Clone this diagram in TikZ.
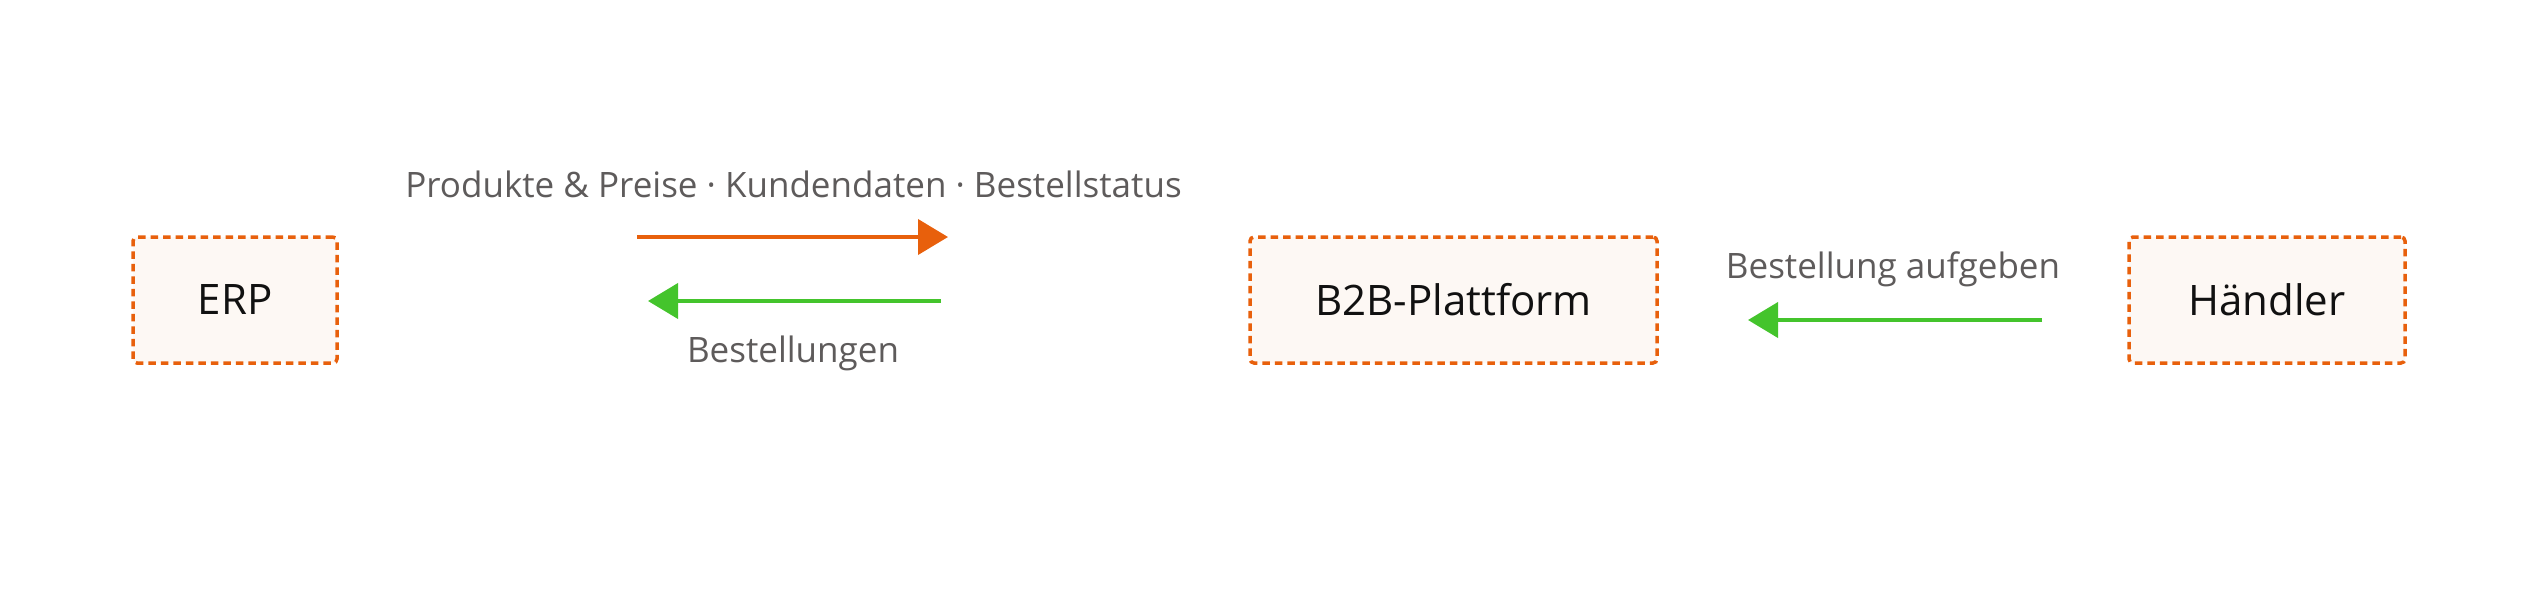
\documentclass[tikz,border=0pt]{standalone}
\usepackage{fontspec}
\setmainfont{Open Sans}
\usetikzlibrary{arrows.meta}
\definecolor{borange}{HTML}{E8600C}
\definecolor{bgreen}{HTML}{44C42C}
\definecolor{bfill}{HTML}{FDF8F4}
\definecolor{lgray}{HTML}{5E5B5B}
\definecolor{btext}{HTML}{111111}
\tikzset{
  sysbox/.style={draw=borange, fill=bfill, line width=3.5pt, dash pattern=on 7.5pt off 5pt,
    rounded corners=4pt, minimum height=126pt, inner sep=0pt, text=btext,
    font=\fontsize{42}{48}\selectfont},
  lbl/.style={text=lgray, font=\fontsize{35}{40}\selectfont, inner sep=0pt},
  flowO/.style={draw=borange, line width=4pt, -{Triangle[length=30pt,width=35pt]}},
  flowG/.style={draw=bgreen, line width=4pt, -{Triangle[length=30pt,width=35pt]}}
}
\begin{document}
\begin{tikzpicture}[x=1pt,y=-1pt]
\useasboundingbox[fill=white] (0,0) rectangle (2536,600);
\node[sysbox, minimum width=204pt] (erp) at (235,300) {ERP};
\node[sysbox, minimum width=407pt] (b2b) at (1453.5,300) {B2B-Plattform};
\node[sysbox, minimum width=276pt] (hd) at (2267,300) {Händler};
\coordinate (o1) at (637,237);
\coordinate (o2) at (948,237);
\coordinate (g1) at (941,301);
\coordinate (g2) at (648,301);
\coordinate (h1) at (2042,320);
\coordinate (h2) at (1748,320);
\draw[flowO] (o1) -- (o2);
\draw[flowG] (g1) -- (g2);
\draw[flowG] (h1) -- (h2);
\node[lbl, anchor=base] (l1) at (793.5,197) {Produkte \& Preise · Kundendaten · Bestellstatus};
\node[lbl, anchor=base] (l2) at (793,362) {Bestellungen};
\node[lbl, anchor=base] (l3) at (1893,278) {Bestellung aufgeben};
\end{tikzpicture}
\end{document}
